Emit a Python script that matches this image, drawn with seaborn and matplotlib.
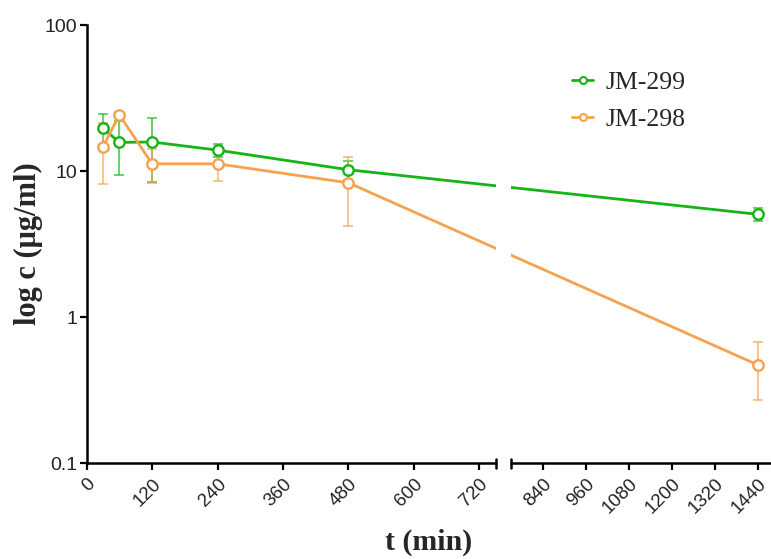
import numpy as np
import pandas as pd
import matplotlib
matplotlib.use("Agg")
import matplotlib.pyplot as plt
import matplotlib.transforms as mtransforms
from matplotlib.lines import Line2D
import seaborn as sns

# ---- data ----
time_min = [30, 60, 120, 240, 480, 1440]
jm299_mean = [19.6, 15.7, 15.8, 13.9, 10.2, 5.05]
jm299_sd = [4.8, 6.3, 7.4, 1.5, 1.5, 0.5]
jm298_mean = [14.7, 24.2, 11.2, 11.2, 8.3, 0.47]
jm298_sd = [6.5, 1.0, 2.9, 2.6, 4.1, 0.2]
series_names = ["JM-299", "JM-298"]
series_colors = ["#16B416", "#F6A24E"]
x_ticks = [0, 120, 240, 360, 480, 600, 720, 840, 960, 1080, 1200, 1320, 1440]
y_ticks = [0.1, 1, 10, 100]
y_ticklabels = ["0.1", "1", "10", "100"]

# ---- broken-axis scale (piecewise linear) ----
BREAK = 750.0
GAP = 27.5
RATIO = 0.6566


def fwd(t):
    t = np.asarray(t, dtype=float)
    return np.where(t <= BREAK, t, BREAK + GAP + (t - BREAK) * RATIO)


def inv(u):
    u = np.asarray(u, dtype=float)
    return np.where(u <= BREAK, u,
                    np.where(u < BREAK + GAP, BREAK, BREAK + (u - BREAK - GAP) / RATIO))


sns.set_theme(style="ticks")
plt.rcParams["font.family"] = ["Liberation Sans", "DejaVu Sans"]

fig = plt.figure(figsize=(7.71, 5.59), dpi=100)
W, H = 771.0, 559.0
ax = fig.add_axes([86.7 / W, 1 - 463 / H, (W - 86.7) / W, (463 - 25) / H])

ax.set_xscale("function", functions=(fwd, inv))
ax.set_yscale("log")

means = [jm299_mean, jm298_mean]
sds = [jm299_sd, jm298_sd]
for name, col, m, s in zip(series_names, series_colors, means, sds):
    df = pd.DataFrame({"t": time_min, "c": m})
    ax.errorbar(time_min, m, yerr=s, fmt="none", ecolor=col, elinewidth=1.1,
                capsize=3.5, capthick=1.1, alpha=0.8, zorder=2)
    sns.lineplot(data=df, x="t", y="c", ax=ax, color=col, lw=2.0, marker="o",
                 ms=7.5, mfc="white", mec=col, mew=1.7, zorder=3, label=None,
                 legend=False)

ax.set_xlim(0, 1477)
ax.set_ylim(0.1, 100)
ax.set_xticks(x_ticks)
ax.set_xticklabels([str(v) for v in x_ticks], rotation=45, ha="right",
                   rotation_mode="anchor", fontsize=13.5, color="#222222")
ax.set_yticks(y_ticks)
ax.set_yticklabels(y_ticklabels, fontsize=14, color="#222222")
ax.yaxis.set_minor_locator(matplotlib.ticker.NullLocator())
ax.xaxis.set_minor_locator(matplotlib.ticker.NullLocator())
ax.tick_params(axis="both", direction="out", length=5, width=1.6, color="black", pad=2)
ax.tick_params(axis="x", pad=4)

for side in ["top", "right"]:
    ax.spines[side].set_visible(False)
for side in ["left", "bottom"]:
    ax.spines[side].set_linewidth(1.8)
    ax.spines[side].set_color("black")

ax.set_facecolor("white")
fig.patch.set_facecolor("white")

# axis break
xmax_u = float(fwd(1477))
f_left = BREAK / xmax_u
f_right = (BREAK + GAP) / xmax_u
trans = mtransforms.blended_transform_factory(ax.transAxes, ax.transAxes)
ax.add_patch(plt.Rectangle((f_left, -0.03), f_right - f_left, 1.04, transform=trans,
                           facecolor="white", edgecolor="none", zorder=10, clip_on=False))
for fx in (f_left, f_right):
    ax.add_line(Line2D([fx, fx], [-0.011, 0.009], transform=trans, color="black",
                       lw=1.8, zorder=11, clip_on=False))

ax.set_xlabel("t (min)", family=["Liberation Serif", "DejaVu Serif"], fontweight="bold",
              fontsize=21.5, labelpad=8)
ax.set_ylabel("log c (\u03bcg/ml)", family=["Liberation Serif", "DejaVu Serif"],
              fontweight="bold", fontsize=22, labelpad=1)

handles = [Line2D([], [], color=c, lw=2.0, marker="o", ms=5, mfc="white", mec=c, mew=1.5)
           for c in series_colors]
leg = fig.legend(handles, series_names, loc="upper left",
                 bbox_to_anchor=(572 / W, 1 - 71 / H), frameon=False,
                 prop={"family": ["Liberation Serif", "DejaVu Serif"], "size": 18.5},
                 handlelength=0.82, handletextpad=0.47, labelspacing=0.56,
                 borderpad=0, borderaxespad=0)

fig.savefig("out.png", dpi=100, facecolor="white")
